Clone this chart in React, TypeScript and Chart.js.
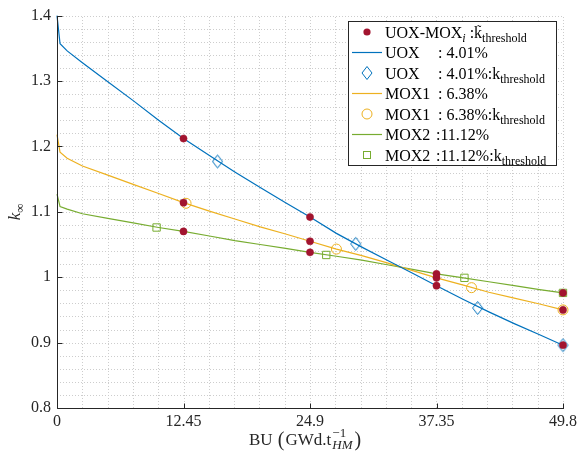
import React, { useEffect, useRef } from 'react';
import { Chart, registerables } from 'chart.js';

Chart.register(...registerables);

// ---- Data ----
const buGrid = [0, 0.3, 1, 2.5, 5, 7.5, 10, 12.45, 15, 17.5, 20, 22.5, 24.9, 27.5, 30, 32.5, 35, 37.35, 40, 42.5, 45, 47.5, 49.8];
const uoxK = [1.400, 1.357, 1.346, 1.328, 1.299, 1.270, 1.240, 1.212, 1.186, 1.161, 1.137, 1.114, 1.092, 1.067, 1.046, 1.026, 1.006, 0.987, 0.966, 0.947, 0.929, 0.912, 0.896];
const mox1K = [1.218, 1.191, 1.182, 1.170, 1.156, 1.142, 1.128, 1.114, 1.101, 1.089, 1.077, 1.066, 1.055, 1.043, 1.033, 1.022, 1.010, 0.999, 0.988, 0.977, 0.968, 0.959, 0.950];
const mox2K = [1.127, 1.108, 1.104, 1.097, 1.090, 1.083, 1.076, 1.070, 1.063, 1.056, 1.050, 1.044, 1.038, 1.032, 1.026, 1.019, 1.012, 1.005, 0.999, 0.993, 0.987, 0.981, 0.976];

const uoxThrBU = [15.8, 29.4, 41.4, 49.8];
const uoxThrK = [1.177, 1.051, 0.953, 0.896];
const mox1ThrBU = [12.7, 27.5, 40.8, 49.8];
const mox1ThrK = [1.113, 1.043, 0.984, 0.950];
const mox2ThrBU = [9.8, 26.5, 40.1, 49.8];
const mox2ThrK = [1.076, 1.034, 0.999, 0.976];

const cycleBU = [12.45, 24.9, 37.35, 49.8];
const dotUOX = [1.212, 1.092, 0.987, 0.896];
const dotMOX1 = [1.114, 1.055, 0.999, 0.950];
const dotMOX2 = [1.070, 1.038, 1.005, 0.976];

const xMajorTicks = [0, 12.45, 24.9, 37.35, 49.8];
const xTickLabels = ['0', '12.45', '24.9', '37.35', '49.8'];
const yMajorTicks = [0.8, 0.9, 1.0, 1.1, 1.2, 1.3, 1.4];
const yTickLabels = ['0.8', '0.9', '1', '1.1', '1.2', '1.3', '1.4'];

// ---- Styles ----
const C_RED = '#A2142F';
const C_BLUE = '#0072BD';
const C_YEL = '#EDB120';
const C_GRN = '#77AC30';
const C_AX = '#262626';
const FAM = '"Liberation Serif", "DejaVu Serif", serif';
const F = `16px ${FAM}`;
const FS = `12px ${FAM}`;
const FSI = `italic 12px ${FAM}`;

const zip = (xs: number[], ys: number[]) => xs.map((x, i) => ({ x, y: ys[i] }));

function makeDiamond(color: string) {
  const c = document.createElement('canvas');
  c.width = 13;
  c.height = 16;
  const g = c.getContext('2d')!;
  g.strokeStyle = color;
  g.lineWidth = 1;
  g.beginPath();
  g.moveTo(6.5, 1.5);
  g.lineTo(11.5, 8);
  g.lineTo(6.5, 14.5);
  g.lineTo(1.5, 8);
  g.closePath();
  g.stroke();
  return c;
}

type Seg = { t: string; f: string; dy?: number };
function drawSegs(ctx: CanvasRenderingContext2D, x: number, y: number, segs: Seg[]) {
  let cx = x;
  for (const s of segs) {
    ctx.font = s.f;
    ctx.fillText(s.t, cx, y + (s.dy || 0));
    cx += ctx.measureText(s.t).width;
  }
  return cx;
}

function drawMarker(ctx: CanvasRenderingContext2D, kind: string, x: number, y: number) {
  ctx.save();
  ctx.lineWidth = 1;
  if (kind === 'dot') {
    ctx.fillStyle = C_RED;
    ctx.beginPath();
    ctx.arc(x, y, 3.6, 0, Math.PI * 2);
    ctx.fill();
  } else if (kind === 'blueLine' || kind === 'yelLine' || kind === 'grnLine') {
    ctx.strokeStyle = kind === 'blueLine' ? C_BLUE : kind === 'yelLine' ? C_YEL : C_GRN;
    ctx.lineWidth = 1.2;
    ctx.beginPath();
    ctx.moveTo(x - 15, y);
    ctx.lineTo(x + 15, y);
    ctx.stroke();
  } else if (kind === 'diamond') {
    ctx.strokeStyle = C_BLUE;
    ctx.beginPath();
    ctx.moveTo(x, y - 6.5);
    ctx.lineTo(x + 5, y);
    ctx.lineTo(x, y + 6.5);
    ctx.lineTo(x - 5, y);
    ctx.closePath();
    ctx.stroke();
  } else if (kind === 'circle') {
    ctx.strokeStyle = C_YEL;
    ctx.beginPath();
    ctx.arc(x, y, 5, 0, Math.PI * 2);
    ctx.stroke();
  } else if (kind === 'square') {
    ctx.strokeStyle = C_GRN;
    ctx.strokeRect(x - 3.5, y - 3.5, 7, 7);
  }
  ctx.restore();
}

const gridPlugin = {
  id: 'dottedGrid',
  beforeDatasetsDraw(chart: any) {
    const { ctx, chartArea: a, scales } = chart;
    const xs = scales.x;
    const ys = scales.y;
    ctx.save();
    ctx.strokeStyle = '#cdcdcd';
    ctx.lineWidth = 1;
    ctx.setLineDash([1, 2]);
    ctx.beginPath();
    for (const t of xs.ticks) {
      const px = Math.round(xs.getPixelForValue(t.value)) + 0.5;
      ctx.moveTo(px, a.bottom);
      ctx.lineTo(px, a.top);
    }
    for (const t of ys.ticks) {
      const py = Math.round(ys.getPixelForValue(t.value)) + 0.5;
      ctx.moveTo(a.left, py);
      ctx.lineTo(a.right, py);
    }
    ctx.stroke();
    ctx.restore();
  },
};

const decorPlugin = {
  id: 'decor',
  afterDraw(chart: any) {
    const { ctx, chartArea: a, scales } = chart;
    const xs = scales.x;
    const ys = scales.y;
    ctx.save();
    // axis lines
    const lx = Math.round(a.left) + 0.5;
    const by = Math.round(a.bottom) + 0.5;
    ctx.strokeStyle = C_AX;
    ctx.lineWidth = 1;
    ctx.beginPath();
    ctx.moveTo(lx, Math.round(a.top));
    ctx.lineTo(lx, by);
    ctx.lineTo(Math.round(a.right) + 1, by);
    ctx.stroke();
    // major ticks (inward)
    ctx.beginPath();
    for (const v of xMajorTicks) {
      const px = Math.round(xs.getPixelForValue(v)) + 0.5;
      ctx.moveTo(px, by);
      ctx.lineTo(px, by - 5);
    }
    for (const v of yMajorTicks) {
      const py = Math.round(ys.getPixelForValue(v)) + 0.5;
      ctx.moveTo(lx, py);
      ctx.lineTo(lx + 5, py);
    }
    ctx.stroke();

    // x title
    ctx.fillStyle = C_AX;
    ctx.textBaseline = 'alphabetic';
    ctx.textAlign = 'left';
    const FT = `17px ${FAM}`;
    const FP = `20px ${FAM}`;
    const FTS = `13px ${FAM}`;
    const FTSI = `italic 13px ${FAM}`;
    const tb = 445;
    let tx = 249;
    tx = drawSegs(ctx, tx, tb, [{ t: 'BU ', f: FT }]);
    tx = drawSegs(ctx, tx + 1, tb + 1, [{ t: '(', f: FP }]);
    tx = drawSegs(ctx, tx + 1, tb, [{ t: 'GWd.t', f: FT }]);
    ctx.font = FTS;
    const wSup = ctx.measureText('−1').width;
    ctx.font = FTSI;
    const wSub = ctx.measureText('HM').width;
    ctx.font = FTS;
    ctx.fillText('−1', tx + 1, tb - 8);
    ctx.font = FTSI;
    ctx.fillText('HM', tx + 1, tb + 4);
    tx += Math.max(wSub, wSup) + 3;
    drawSegs(ctx, tx, tb + 1, [{ t: ')', f: FP }]);

    // y title (rotated)
    ctx.save();
    ctx.translate(20, (a.top + a.bottom) / 2);
    ctx.rotate(-Math.PI / 2);
    const FK = `italic 17px ${FAM}`;
    const FInf = `13px ${FAM}`;
    ctx.font = FK;
    const wk = ctx.measureText('k').width;
    ctx.font = FInf;
    const winf = ctx.measureText('∞').width;
    const sx = -(wk + winf) / 2;
    ctx.font = FK;
    ctx.fillText('k', sx, 0);
    ctx.font = FInf;
    ctx.fillText('∞', sx + wk, 4);
    ctx.restore();

    // legend
    const L = 348.5, T = 21.5, R = 556.5, B = 165.5;
    ctx.fillStyle = '#ffffff';
    ctx.fillRect(L, T, R - L, B - T);
    ctx.strokeStyle = C_AX;
    ctx.lineWidth = 1;
    ctx.strokeRect(L, T, R - L, B - T);
    const rows: { m: string; name: Seg[]; rest: Seg[]; rx: number }[] = [
      { m: 'dot', name: [{ t: 'UOX-MOX', f: F }, { t: 'i', f: FSI, dy: 4 }, { t: ' :', f: F }], rest: [], rx: 0 },
      { m: 'blueLine', name: [{ t: 'UOX', f: F }], rest: [{ t: ': 4.01%', f: F }], rx: 438 },
      { m: 'diamond', name: [{ t: 'UOX', f: F }], rest: [{ t: ': 4.01%:k', f: F }, { t: 'threshold', f: FS, dy: 4 }], rx: 438 },
      { m: 'yelLine', name: [{ t: 'MOX1', f: F }], rest: [{ t: ': 6.38%', f: F }], rx: 438 },
      { m: 'circle', name: [{ t: 'MOX1', f: F }], rest: [{ t: ': 6.38%:k', f: F }, { t: 'threshold', f: FS, dy: 4 }], rx: 438 },
      { m: 'grnLine', name: [{ t: 'MOX2', f: F }], rest: [{ t: ':11.12%', f: F }], rx: 436 },
      { m: 'square', name: [{ t: 'MOX2', f: F }], rest: [{ t: ':11.12%:k', f: F }, { t: 'threshold', f: FS, dy: 4 }], rx: 436 },
    ];
    rows.forEach((r, i) => {
      const cy = 32 + i * 20.5;
      drawMarker(ctx, r.m, 367, cy);
      ctx.fillStyle = '#000000';
      const base = cy + 5.5;
      const end = drawSegs(ctx, 385, base, r.name);
      if (i === 0) {
        ctx.font = F;
        const kx = end;
        const kw = ctx.measureText('k').width;
        drawSegs(ctx, kx, base, [{ t: 'k', f: F }, { t: 'threshold', f: FS, dy: 4 }]);
        ctx.font = `13px ${FAM}`;
        const tw = ctx.measureText('˜').width;
        ctx.fillText('˜', kx + kw / 2 - tw / 2 + 1, base - 4);
      } else {
        drawSegs(ctx, r.rx, base, r.rest);
      }
    });
    ctx.restore();
  },
};

export default function App() {
  const ref = useRef<HTMLCanvasElement>(null);
  useEffect(() => {
    const canvas = ref.current!;
    const diamond = makeDiamond(C_BLUE);
    const tickFont = { family: FAM, size: 16 };
    const chart = new Chart(canvas, {
      type: 'scatter',
      data: {
        datasets: [
          {
            label: 'UOX-MOX_i : k threshold',
            data: [...zip(cycleBU, dotUOX), ...zip(cycleBU, dotMOX1), ...zip(cycleBU, dotMOX2)],
            showLine: false,
            pointStyle: 'circle',
            pointRadius: 3.6,
            backgroundColor: C_RED,
            borderColor: C_RED,
            borderWidth: 0.5,
            clip: false,
          } as any,
          {
            label: 'UOX : 4.01%',
            data: zip(buGrid, uoxK),
            showLine: true,
            borderColor: C_BLUE,
            borderWidth: 1.2,
            pointRadius: 0,
            clip: false,
          },
          {
            label: 'UOX : 4.01%:k threshold',
            data: zip(uoxThrBU, uoxThrK),
            showLine: false,
            pointStyle: diamond,
            pointRadius: 6,
            borderColor: C_BLUE,
            backgroundColor: 'transparent',
            clip: false,
          } as any,
          {
            label: 'MOX1 : 6.38%',
            data: zip(buGrid, mox1K),
            showLine: true,
            borderColor: C_YEL,
            borderWidth: 1.2,
            pointRadius: 0,
            clip: false,
          },
          {
            label: 'MOX1 : 6.38%:k threshold',
            data: zip(mox1ThrBU, mox1ThrK),
            showLine: false,
            pointStyle: 'circle',
            pointRadius: 5,
            borderWidth: 1,
            borderColor: C_YEL,
            backgroundColor: 'transparent',
            clip: false,
          } as any,
          {
            label: 'MOX2 :11.12%',
            data: zip(buGrid, mox2K),
            showLine: true,
            borderColor: C_GRN,
            borderWidth: 1.2,
            pointRadius: 0,
            clip: false,
          },
          {
            label: 'MOX2 :11.12%:k threshold',
            data: zip(mox2ThrBU, mox2ThrK),
            showLine: false,
            pointStyle: 'rect',
            pointRadius: 5.2,
            borderWidth: 1,
            borderColor: C_GRN,
            backgroundColor: 'transparent',
            clip: false,
          } as any,
        ],
      },
      options: {
        animation: false,
        responsive: false,
        devicePixelRatio: 1,
        layout: { padding: { top: 13, right: 16, left: 0, bottom: 0 } },
        plugins: {
          legend: { display: false },
          tooltip: { enabled: false },
          title: { display: false },
        },
        scales: {
          x: {
            type: 'linear',
            min: 0,
            max: 49.8,
            ticks: {
              stepSize: 2.49,
              autoSkip: false,
              maxRotation: 0,
              padding: 4,
              color: C_AX,
              font: tickFont,
              callback: (value: any) => {
                const i = xMajorTicks.findIndex((v) => Math.abs(v - Number(value)) < 1e-6);
                return i >= 0 ? xTickLabels[i] : '';
              },
            },
            grid: { display: false, drawTicks: false },
            border: { display: false },
            afterFit: (s: any) => {
              s.height = 46;
            },
          },
          y: {
            type: 'linear',
            min: 0.8,
            max: 1.4,
            ticks: {
              stepSize: 0.02,
              autoSkip: false,
              padding: 6,
              color: C_AX,
              font: tickFont,
              callback: (value: any) => {
                const i = yMajorTicks.findIndex((v) => Math.abs(v - Number(value)) < 1e-6);
                return i >= 0 ? yTickLabels[i] : '';
              },
            },
            grid: { display: false, drawTicks: false },
            border: { display: false },
            afterFit: (s: any) => {
              s.width = 57;
            },
          },
        },
      } as any,
      plugins: [gridPlugin, decorPlugin],
    });
    return () => chart.destroy();
  }, []);
  return (
    <div style={{ position: 'fixed', left: 0, top: 0, width: 581, height: 454, background: '#ffffff' }}>
      <canvas ref={ref} width={581} height={454} style={{ display: 'block', width: 581, height: 454 }} />
    </div>
  );
}
